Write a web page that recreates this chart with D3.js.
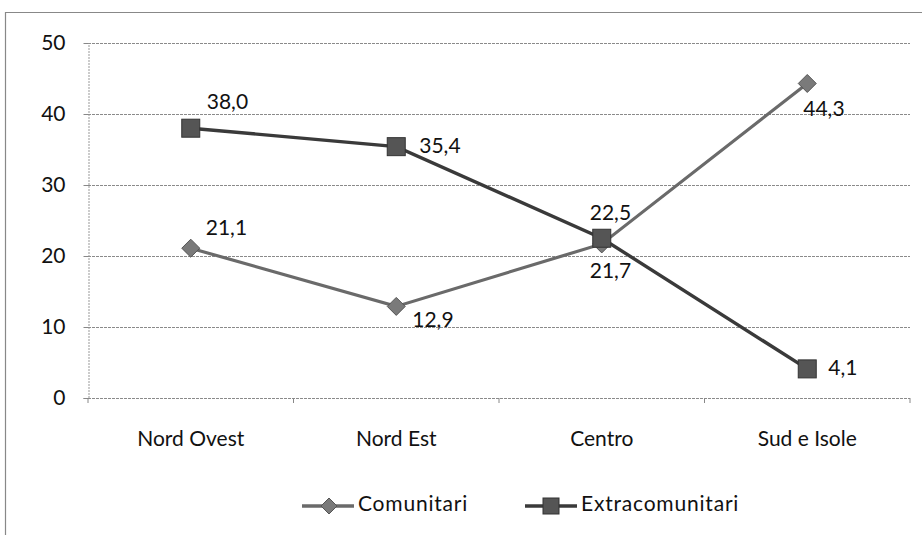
<!DOCTYPE html>
<html><head><meta charset="utf-8">
<script src="https://cdn.jsdelivr.net/npm/d3@7"></script>
<style>body{margin:0;background:#fff}svg{display:block}text{font-family:Lato,"Open Sans",sans-serif;fill:#111}</style>
</head><body><svg id="c" width="922" height="535"></svg>
<script>
const categories = ["Nord Ovest","Nord Est","Centro","Sud e Isole"];
const comunitari = [21.1,12.9,21.7,44.3];
const extracomunitari = [38.0,35.4,22.5,4.1];
const yTicks = [0,10,20,30,40,50];
const seriesNames = ["Comunitari","Extracomunitari"];

const svg = d3.select("#c");
const m = {l:88,r:910,t:43,b:398};
const x = d3.scaleBand().domain(categories).range([m.l,m.r]);
const y = d3.scaleLinear().domain([0,50]).range([m.b,m.t]);
const cx = d => x(d)+x.bandwidth()/2;
const FS = "21px";

// frame
svg.append("path").attr("d","M5.5,535 V12.5 H922").attr("fill","none").attr("stroke","#888").attr("stroke-width",1.2);

// gridlines
svg.append("g").selectAll("line").data(yTicks).join("line")
  .attr("x1",m.l).attr("x2",m.r).attr("y1",d=>y(d)+0.5).attr("y2",d=>y(d)+0.5)
  .attr("stroke","#8a8a8a").attr("stroke-width",1).attr("stroke-dasharray","3,1");

// y axis
const ya = svg.append("g").attr("transform",`translate(${m.l+0.5},0)`)
  .call(d3.axisLeft(y).tickValues(yTicks).tickSize(5).tickPadding(18));
ya.select(".domain").attr("stroke","#999").attr("stroke-dasharray","2,1");
ya.selectAll(".tick line").attr("stroke","#888");
ya.selectAll("text").style("font-size",FS).attr("fill","#111");

// x axis
const xa = svg.append("g").attr("transform",`translate(0,${m.b+0.5})`)
  .call(d3.axisBottom(x).tickSize(0).tickPadding(33));
xa.select(".domain").remove();
xa.selectAll("text").style("font-size",FS).attr("fill","#111");
svg.append("g").selectAll("line").data(categories.concat([null])).join("line")
  .attr("x1",d=> d===null? m.r : x(d)).attr("x2",d=> d===null? m.r : x(d))
  .attr("y1",m.b).attr("y2",m.b+5).attr("stroke","#888");

const diamond = s => `M0,${-s}L${s},0L0,${s}L${-s},0Z`;
const line = d3.line().x((d,i)=>cx(categories[i])).y(d=>y(d));
// Comunitari
svg.append("path").datum(comunitari).attr("d",line).attr("fill","none").attr("stroke","#6a6a6a").attr("stroke-width",3.2);
// Extracomunitari
svg.append("path").datum(extracomunitari).attr("d",line).attr("fill","none").attr("stroke","#3a3a3a").attr("stroke-width",3.4);

svg.append("g").selectAll("path").data(comunitari).join("path")
  .attr("d",diamond(9))
  .attr("transform",(d,i)=>`translate(${cx(categories[i])},${y(d)})`)
  .attr("fill","#7a7a7a").attr("stroke","#555").attr("stroke-width",1);
svg.append("g").selectAll("rect").data(extracomunitari).join("rect")
  .attr("x",(d,i)=>cx(categories[i])-9).attr("y",d=>y(d)-9).attr("width",18).attr("height",18)
  .attr("fill","#555").attr("stroke","#333").attr("stroke-width",1);

const fmt = v => v.toFixed(1).replace(".",",");
const offC = [[15,-19],[16,15],[-12,29],[-4,27]];
const offE = [[16,-25],[23,1],[-12,-24],[21,1]];
svg.append("g").selectAll("text").data(comunitari).join("text")
  .attr("x",(d,i)=>cx(categories[i])+offC[i][0]).attr("y",(d,i)=>y(d)+offC[i][1])
  .attr("dominant-baseline","middle").style("font-size",FS).text(fmt);
svg.append("g").selectAll("text").data(extracomunitari).join("text")
  .attr("x",(d,i)=>cx(categories[i])+offE[i][0]).attr("y",(d,i)=>y(d)+offE[i][1])
  .attr("dominant-baseline","middle").style("font-size",FS).text(fmt);

// legend
const lg = svg.append("g");
const lx = [302,525], ly = 506;
seriesNames.forEach((n,i)=>{
  const g = lg.append("g").attr("transform",`translate(${lx[i]},${ly})`);
  g.append("line").attr("x1",0).attr("x2",52).attr("y1",0).attr("y2",0).attr("stroke",i?"#3a3a3a":"#6a6a6a").attr("stroke-width",3.4);
  if(i===0) g.append("path").attr("d",diamond(8)).attr("transform","translate(27,0)").attr("fill","#7a7a7a").attr("stroke","#555");
  else g.append("rect").attr("x",18).attr("y",-8).attr("width",16).attr("height",16).attr("fill","#555").attr("stroke","#333");
  g.append("text").attr("x",56).attr("y",0).attr("dominant-baseline","middle").style("font-size",FS).style("letter-spacing","0.8px").text(n);
});
</script></body></html>
